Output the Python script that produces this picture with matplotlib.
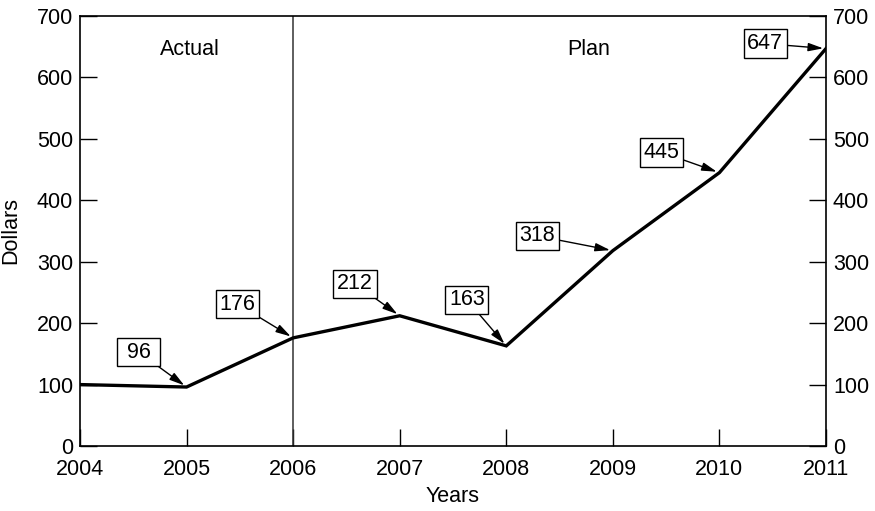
import matplotlib
matplotlib.use("Agg")
import matplotlib.pyplot as plt

plt.rcParams['font.family'] = ['Liberation Sans', 'DejaVu Sans']

years = [2004, 2005, 2006, 2007, 2008, 2009, 2010, 2011]
dollars = [100, 96, 176, 212, 163, 318, 445, 647]

# labelled points: (year, value, text x, text y)
label_years = [2005, 2006, 2007, 2008, 2009, 2010, 2011]
label_values = [96, 176, 212, 163, 318, 445, 647]
label_text_x = [2004.55, 2005.48, 2006.58, 2007.63, 2008.29, 2009.46, 2010.43]
label_text_y = [153, 231, 264, 238, 342, 478, 655]

FS = 15.5

fig = plt.figure(figsize=(8.75, 5.11), dpi=100)
ax = fig.add_axes([0.0914, 0.1272, 0.8526, 0.8415])

ax.plot(years, dollars, color='black', lw=2.4, solid_joinstyle='miter', zorder=3)
ax.axvline(2006, color='#333333', lw=1.1, zorder=2)

for yr, v, tx, ty in zip(label_years, label_values, label_text_x, label_text_y):
    txt = str(v) if v >= 100 else f' {v} '   # keep all boxes the same width
    ax.annotate(txt, xy=(yr, v), xytext=(tx, ty), fontsize=FS,
                ha='center', va='center',
                bbox=dict(boxstyle='square,pad=0.17', fc='white', ec='black', lw=1),
                arrowprops=dict(arrowstyle='-|>,head_length=0.9,head_width=0.25',
                                color='black', lw=1,
                                mutation_scale=10, shrinkA=0, shrinkB=2))

ax.text(2005.03, 645, 'Actual', fontsize=FS, ha='center', va='center')
ax.text(2008.77, 645, 'Plan', fontsize=FS, ha='center', va='center')

ax.set_xlim(2004, 2011)
ax.set_ylim(0, 700)
ax.set_xticks(years)
ax.set_yticks(range(0, 701, 100))
ax.tick_params(axis='both', direction='in', length=12, width=1, labelsize=FS,
               right=True, labelright=True, top=False)
ax.tick_params(axis='x', pad=9)
ax.tick_params(axis='y', pad=5)
for s in ax.spines.values():
    s.set_linewidth(1.2)

ax.set_xlabel('Years', fontsize=FS, labelpad=5)
ax.set_ylabel('Dollars', fontsize=FS, labelpad=11)

fig.savefig('out.png', dpi=100)
